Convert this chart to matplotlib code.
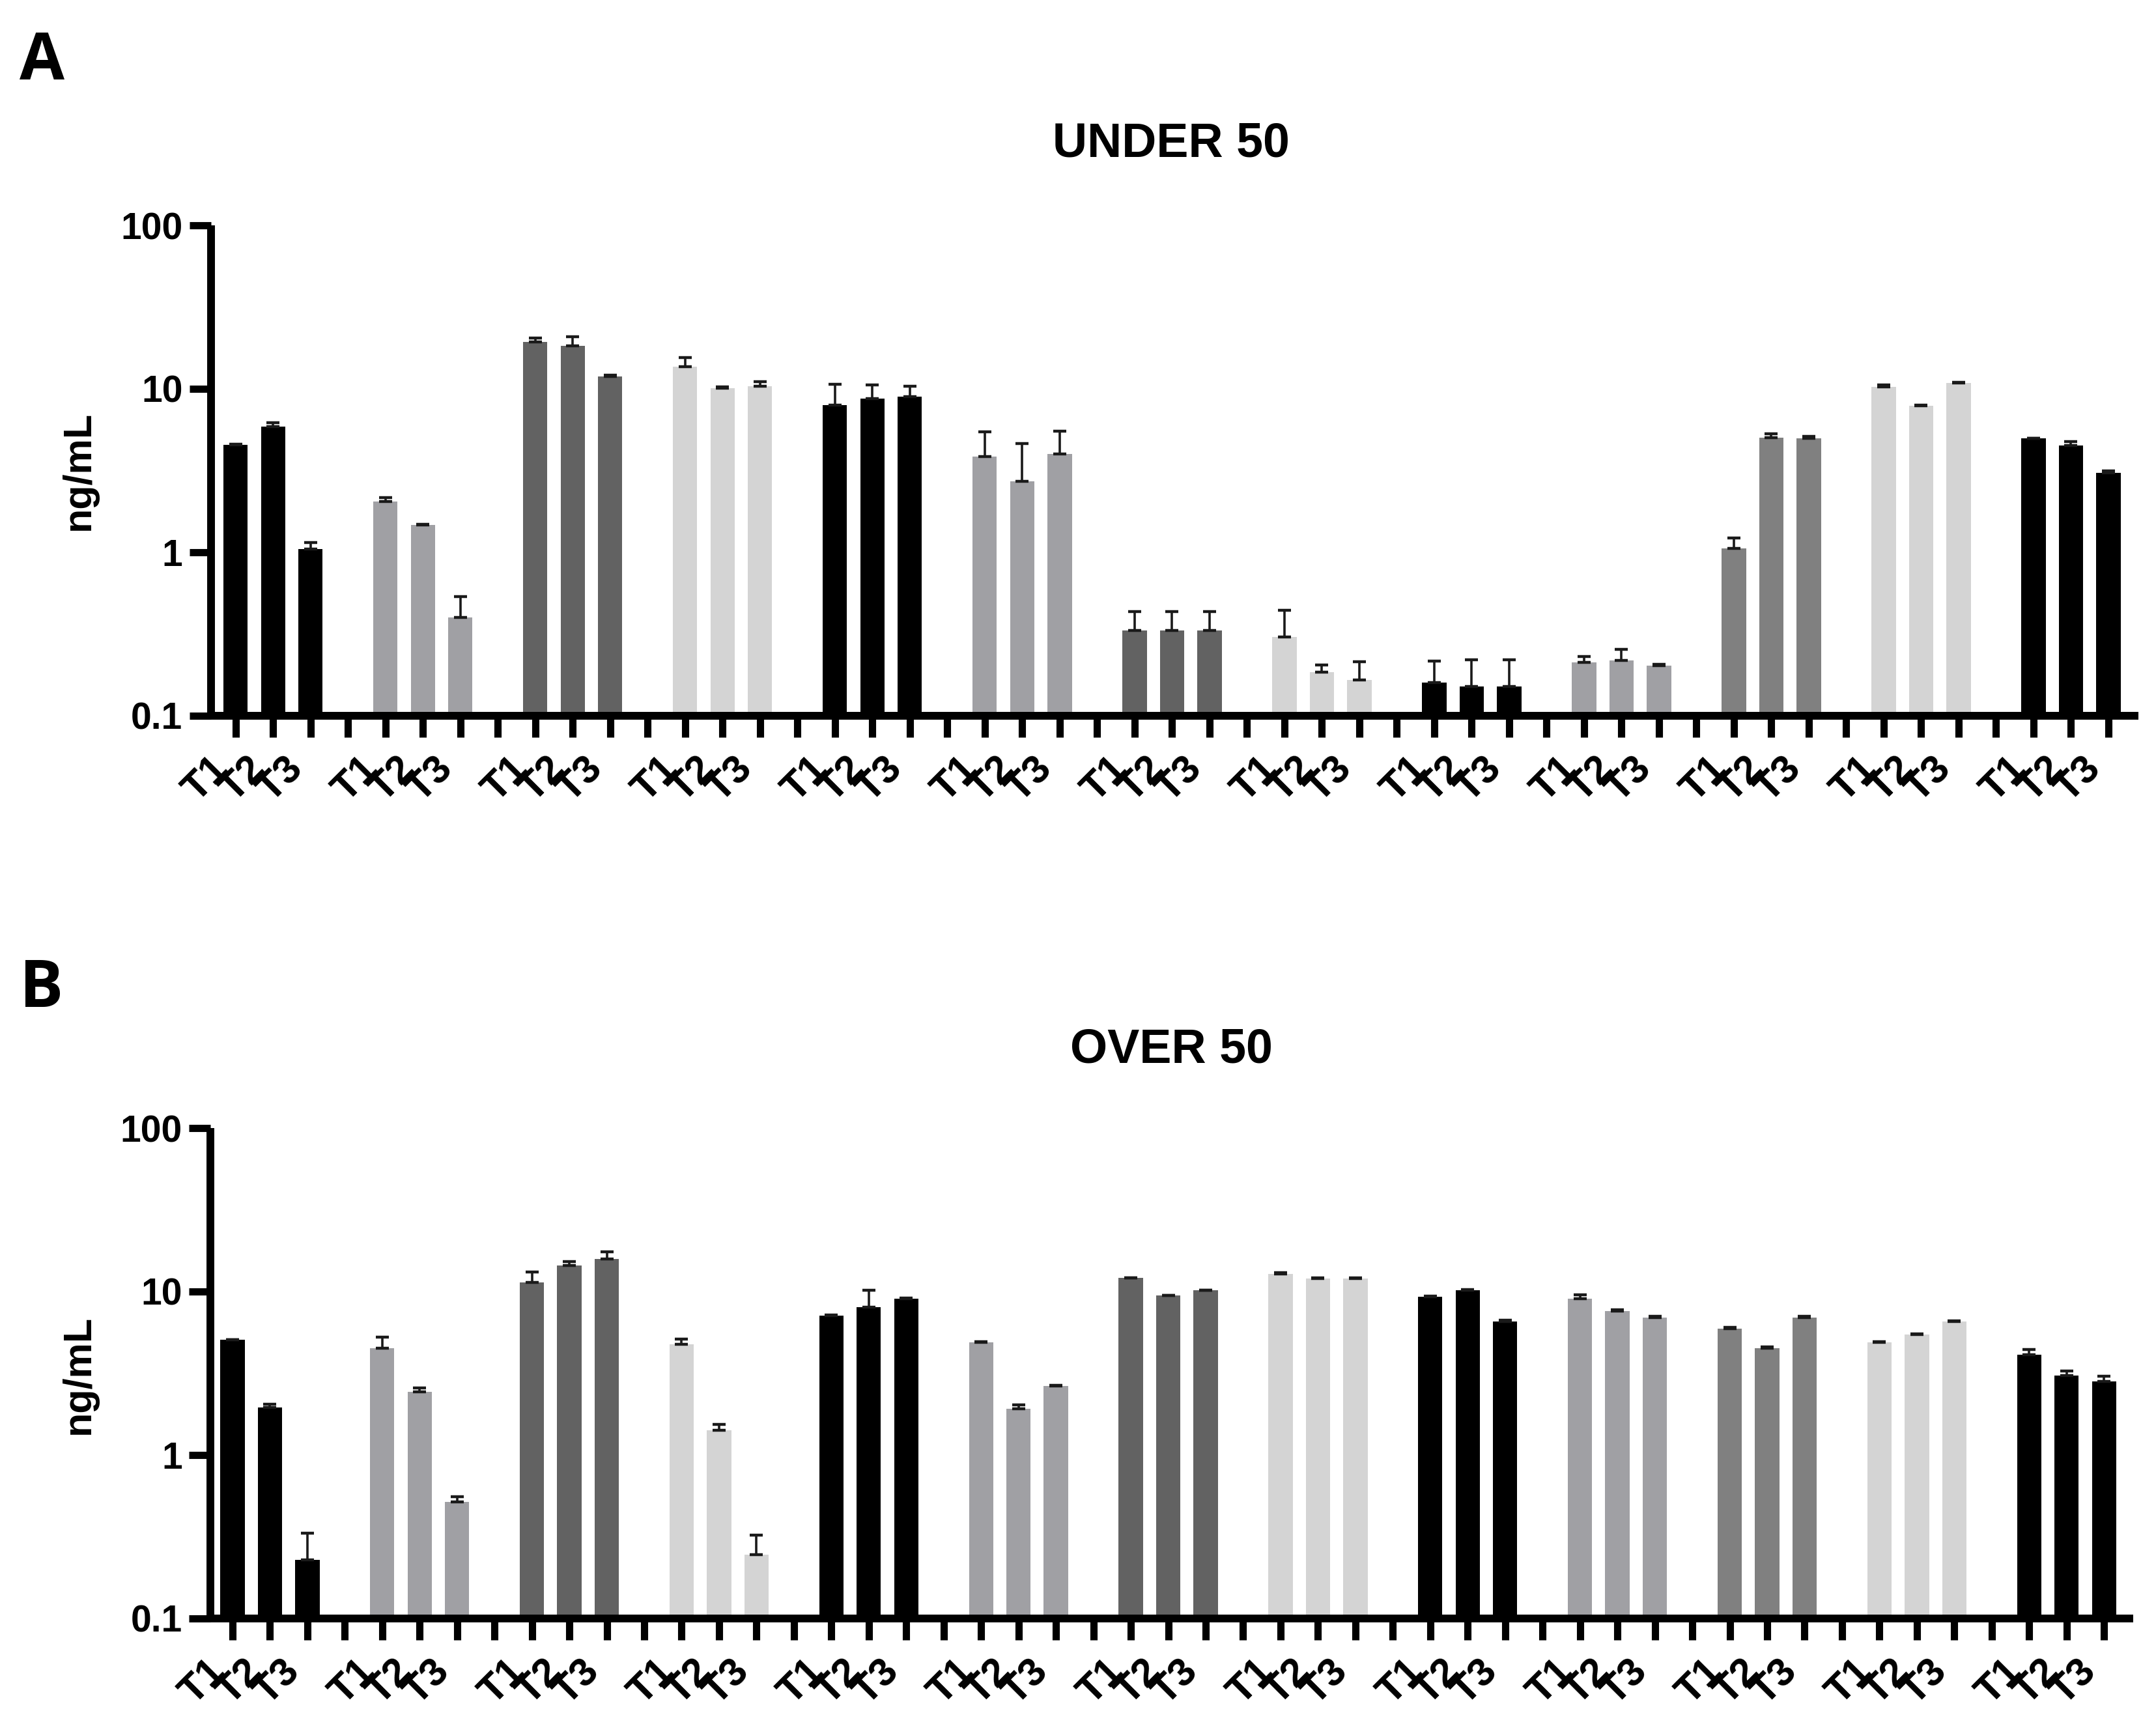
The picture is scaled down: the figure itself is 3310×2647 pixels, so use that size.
import numpy as np
import matplotlib
matplotlib.use("Agg")
import matplotlib.pyplot as plt
import matplotlib.transforms as mtransforms
from matplotlib.ticker import FixedLocator, FixedFormatter, NullLocator

plt.rcParams['font.family'] = ['Liberation Sans', 'DejaVu Sans']
plt.rcParams['font.weight'] = 'bold'

# ---------------- data ----------------
time_labels = ["T1", "T2", "T3"]
n_groups = 13
group_colors = ["#000000", "#a0a0a4", "#626262", "#d4d4d4",
                "#000000", "#a0a0a4", "#626262", "#d4d4d4",
                "#000000", "#a0a0a4", "#808080", "#d4d4d4",
                "#000000"]

under_mean = [4.55, 5.9, 1.05,   2.05, 1.47, 0.40,   19.4, 18.3, 11.9,
              13.6, 10.1, 10.35, 7.96, 8.7, 8.93,    3.85, 2.71, 4.0,
              0.332, 0.332, 0.332, 0.304, 0.185, 0.165, 0.16, 0.151, 0.151,
              0.213, 0.219, 0.202, 1.06, 5.01, 5.0,   10.24, 7.87, 10.85,
              5.0, 4.51, 3.07]
under_err = [0.05, 0.3, 0.1,   0.11, 0.02, 0.136,  1.0, 2.5, 0.2,
             1.9, 0.15, 0.7,   2.7, 1.9, 1.4,      1.6, 1.9, 1.5,
             0.10, 0.10, 0.10, 0.14, 0.02, 0.05,   0.057, 0.07, 0.07,
             0.018, 0.035, 0.005, 0.16, 0.3, 0.1,  0.3, 0.1, 0.1,
             0.0, 0.24, 0.08]

over_mean = [5.05, 1.95, 0.228,  4.49, 2.43, 0.517,  11.4, 14.45, 15.8,
             4.76, 1.42, 0.246,  7.13, 8.01, 9.05,   4.9, 1.92, 2.65,
             12.1, 9.49, 10.2,   12.85, 12.05, 12.05, 9.32, 10.2, 6.56,
             9.05, 7.6, 6.96,    5.94, 4.49, 6.96,   4.9, 5.45, 6.56,
             4.11, 3.07, 2.81]
over_err = [0.03, 0.09, 0.105,  0.77, 0.15, 0.04,  1.8, 0.85, 1.7,
            0.35, 0.12, 0.078,  0.05, 2.2, 0.1,    0.05, 0.1, 0.03,
            0.0, 0.0, 0.0,      0.2, 0.1, 0.1,     0.1, 0.05, 0.1,
            0.5, 0.15, 0.08,    0.08, 0.08, 0.1,   0.05, 0.05, 0.05,
            0.3, 0.19, 0.23]

y_ticks = [0.1, 1, 10, 100]
y_tick_labels = ["0.1", "1", "10", "100"]

# ---------------- figure ----------------
W, H = 3310, 2647
fig = plt.figure(figsize=(W / 100, H / 100), dpi=100)
fig.patch.set_facecolor("white")

def px_rect(left, right, top, bottom):
    return [left / W, 1 - bottom / H, (right - left) / W, (bottom - top) / H]

positions = []
colors = []
for g in range(n_groups):
    for t in range(3):
        positions.append(4 * g + t)
        colors.append(group_colors[g])
positions = np.array(positions)
n_pos = 4 * n_groups - 1
tick_pos = list(range(n_pos))
tick_lab = []
for p in tick_pos:
    tick_lab.append(time_labels[p % 4] if p % 4 < 3 else "")

label_shift = mtransforms.ScaledTranslation(0.26, 0, fig.dpi_scale_trans)

def draw_panel(ax, means, errs, xlim):
    means = np.array(means)
    errs = np.array(errs)
    ax.set_yscale("log")
    ax.bar(positions, means, width=0.65, color=colors, linewidth=0, zorder=2)
    for x, m, e in zip(positions, means, errs):
        ax.errorbar([x], [m], yerr=[[0], [e]], fmt="none", ecolor="#1a1a1a",
                    elinewidth=2.6, capsize=7.5, capthick=3.2, zorder=3)
    ax.set_ylim(0.1, 100)
    ax.set_xlim(*xlim)
    ax.yaxis.set_major_locator(FixedLocator(y_ticks))
    ax.yaxis.set_major_formatter(FixedFormatter(y_tick_labels))
    ax.yaxis.set_minor_locator(NullLocator())
    ax.set_xticks(tick_pos)
    ax.set_xticklabels(tick_lab, rotation=45, ha="right", va="top",
                       fontsize=44, fontweight="bold")
    for lab in ax.get_xticklabels():
        lab.set_transform(lab.get_transform() + label_shift)
    ax.xaxis.set_minor_locator(NullLocator())
    for s in ["top", "right"]:
        ax.spines[s].set_visible(False)
    for s in ["left", "bottom"]:
        ax.spines[s].set_linewidth(8.6)
        ax.spines[s].set_zorder(4)
        ax.spines[s].set_capstyle("butt")
    ax.tick_params(axis="both", which="major", direction="out", length=24,
                   width=8.0, color="black")
    ax.tick_params(axis="y", labelsize=41, pad=7)
    ax.tick_params(axis="x", pad=14)
    for lab in ax.get_yticklabels():
        lab.set_fontweight("bold")
    ax.set_facecolor("white")

axA = fig.add_axes(px_rect(323.5, 3283, 346, 1099))
draw_panel(axA, under_mean, under_err, (-0.664, 50.8))
axB = fig.add_axes(px_rect(323, 3275, 1732, 2485))
draw_panel(axB, over_mean, over_err, (-0.59, 50.78))

# y labels
for ax, yc in [(axA, 722), (axB, 2110)]:
    fig.text(121 / W, 1 - yc / H, "ng/mL", rotation=90, ha="center", va="center",
             fontsize=44, fontweight="bold")

# titles
fig.text(1798 / W, 1 - 221 / H, "UNDER 50", ha="center", va="center",
         fontsize=53, fontweight="bold")
fig.text(1798 / W, 1 - 1612 / H, "OVER 50", ha="center", va="center",
         fontsize=53, fontweight="bold")

# panel letters
fig.text(30 / W, 1 - 95 / H, "A", ha="left", va="center", fontsize=72,
         fontweight="bold", family=["Open Sans", "DejaVu Sans"])
fig.text(30 / W, 1 - 1520 / H, "B", ha="left", va="center", fontsize=72,
         fontweight="bold", family=["Open Sans", "DejaVu Sans"])

fig.savefig("out.png", dpi=100, facecolor="white")
